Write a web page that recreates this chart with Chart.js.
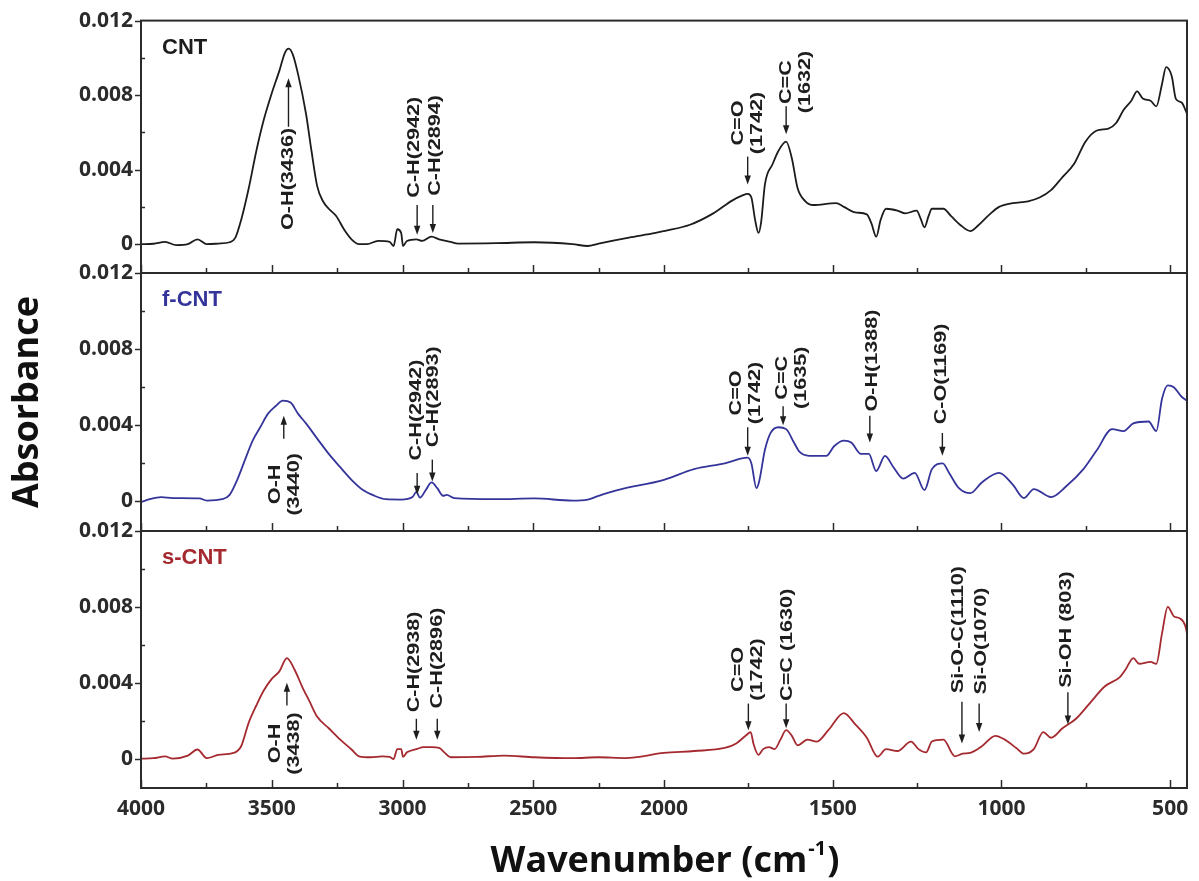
<!DOCTYPE html>
<html>
<head>
<meta charset="utf-8">
<title>FTIR spectra of CNT, f-CNT and s-CNT</title>
<script src="https://cdn.jsdelivr.net/npm/chart.js@4.4.1/dist/chart.umd.min.js"></script>
<style>
    html, body { margin: 0; padding: 0; background: #fff; }
    #wrap { position: relative; width: 1199px; height: 881px; }
    #wrap canvas { position: absolute; left: 0; top: 0; }
</style>
</head>
<body>
<div id="wrap">
    <canvas id="cntChart" width="1199" height="881"></canvas>
    <canvas id="fcntChart" width="1199" height="881"></canvas>
    <canvas id="scntChart" width="1199" height="881"></canvas>
</div>
<script>
'use strict';

// ============================================================================
// DATA  (wavenumber cm-1, absorbance)
// ============================================================================

var cntSpectrum = [
    [4000, 0.0000], [3952, 0.00002], [3908, 0.00012], [3865, -0.00005], [3821, 0.0000],
    [3784, 0.00026], [3748, 0.0000], [3704, 0.00003], [3661, 0.0001], [3639, 0.00035],
    [3617, 0.0013], [3588, 0.0030], [3559, 0.0050], [3530, 0.0067], [3500, 0.0081],
    [3471, 0.0093], [3449, 0.0103], [3435, 0.0105], [3420, 0.0102], [3399, 0.0091],
    [3369, 0.0070], [3348, 0.0050], [3326, 0.0031], [3304, 0.0023], [3282, 0.0019],
    [3253, 0.0015], [3224, 0.0008], [3195, 0.00026], [3166, 0.0000], [3136, 0.0000],
    [3093, 0.00017], [3049, 0.00012], [3034, -0.0001], [3020, 0.0008], [3005, 0.0006],
    [2998, -0.0001], [2983, 0.00017], [2947, 0.00026], [2925, 0.00017], [2889, 0.0004],
    [2860, 0.00026], [2816, 0.00012], [2787, 0.00003], [2642, 0.00005], [2496, 0.0001],
    [2350, 0.0000], [2292, -0.0001], [2250, 0.00003], [2134, 0.00035], [2032, 0.0006],
    [2000, 0.0007], [1923, 0.00104], [1854, 0.00165], [1797, 0.00235], [1769, 0.0026],
    [1752, 0.0027], [1741, 0.0025], [1730, 0.0013], [1720, 0.0006], [1712, 0.0012],
    [1701, 0.0032], [1678, 0.0043], [1661, 0.0050], [1638, 0.0055], [1621, 0.0046],
    [1604, 0.0030], [1581, 0.0023], [1558, 0.0021], [1490, 0.0022], [1467, 0.0020],
    [1433, 0.0017], [1399, 0.0016], [1385, 0.0011], [1371, 0.0004], [1358, 0.0013],
    [1342, 0.0019], [1308, 0.0018], [1285, 0.00165], [1251, 0.0018], [1240, 0.0014],
    [1228, 0.0009], [1216, 0.0015], [1206, 0.0019], [1172, 0.0019], [1149, 0.0015],
    [1120, 0.0010], [1092, 0.0007], [1069, 0.0010], [1035, 0.0016], [1007, 0.0020],
    [967, 0.0022], [921, 0.0023], [887, 0.0025], [853, 0.0029], [819, 0.0036],
    [785, 0.0043], [751, 0.0055], [717, 0.0061], [683, 0.0062], [660, 0.0065],
    [638, 0.0072], [615, 0.0077], [598, 0.0082], [580, 0.0078], [558, 0.0077],
    [541, 0.0074], [524, 0.0086], [512, 0.0095], [495, 0.0090], [483, 0.0078],
    [466, 0.0076], [450, 0.0070]
];

var fcntSpectrum = [
    [4000, -0.00003], [3967, 0.00012], [3923, 0.00023], [3879, 0.00018], [3777, 0.00016],
    [3748, 0.00005], [3690, 0.00012], [3661, 0.00035], [3632, 0.00114], [3602, 0.0022],
    [3573, 0.0032], [3544, 0.0039], [3515, 0.0046], [3486, 0.0050], [3457, 0.0053],
    [3428, 0.0052], [3399, 0.0046], [3369, 0.0041], [3326, 0.0033], [3282, 0.0025],
    [3238, 0.0018], [3195, 0.00114], [3151, 0.0006], [3107, 0.0003], [3064, 0.00012],
    [3005, 0.0001], [2962, 0.00023], [2947, 0.0005], [2933, 0.0002], [2911, 0.0006],
    [2889, 0.0010], [2867, 0.0007], [2845, 0.0003], [2831, 0.00035], [2802, 0.00018],
    [2642, 0.00012], [2496, 0.00016], [2350, 0.00005], [2292, 0.0001], [2250, 0.0003],
    [2178, 0.0006], [2000, 0.00114], [1911, 0.0017], [1820, 0.0020], [1752, 0.0023],
    [1741, 0.0020], [1726, 0.0007], [1718, 0.00105], [1701, 0.0027], [1684, 0.0036],
    [1661, 0.0039], [1638, 0.0038], [1615, 0.0031], [1598, 0.0026], [1570, 0.0024],
    [1519, 0.0024], [1496, 0.0029], [1467, 0.0032], [1445, 0.0031], [1416, 0.0025],
    [1393, 0.0025], [1371, 0.0016], [1345, 0.0024], [1320, 0.0018], [1291, 0.0012],
    [1257, 0.0015], [1228, 0.0006], [1206, 0.0017], [1174, 0.0020], [1155, 0.0015],
    [1126, 0.0007], [1092, 0.00044], [1058, 0.0010], [1007, 0.0015], [967, 0.0009],
    [933, 0.00018], [904, 0.00065], [853, 0.00023], [808, 0.0008], [757, 0.0017],
    [717, 0.0027], [672, 0.0038], [638, 0.0037], [609, 0.0041], [564, 0.0042],
    [541, 0.0037], [524, 0.0054], [507, 0.0061], [489, 0.0060], [466, 0.0055],
    [450, 0.0053]
];

var scntSpectrum = [
    [4000, 0.0000], [3952, 0.00002], [3908, 0.00012], [3879, 0.0000], [3821, 0.00016],
    [3784, 0.00048], [3748, 0.00002], [3704, 0.0002], [3646, 0.0003], [3617, 0.00065],
    [3588, 0.0019], [3559, 0.0028], [3530, 0.0036], [3500, 0.0042], [3471, 0.0046],
    [3442, 0.0053], [3413, 0.0047], [3384, 0.0038], [3355, 0.0030], [3326, 0.0022],
    [3282, 0.0016], [3238, 0.0010], [3195, 0.00048], [3166, 0.00012], [3122, 0.00007],
    [3078, 0.00012], [3049, 0.00009], [3034, -0.00002], [3020, 0.0005], [3005, 0.0005],
    [2998, 0.00009], [2983, 0.00033], [2947, 0.0005], [2918, 0.0006], [2889, 0.0006],
    [2860, 0.00056], [2838, 0.0003], [2816, 0.00007], [2714, 0.00009], [2612, 0.00016],
    [2496, 0.00007], [2350, 0.00002], [2251, 0.00007], [2148, 0.00003], [2000, 0.0003],
    [1911, 0.0004], [1820, 0.00056], [1786, 0.0008], [1752, 0.0013], [1743, 0.0014],
    [1735, 0.0008], [1720, 0.0002], [1706, 0.0005], [1689, 0.0006], [1672, 0.0005],
    [1655, 0.0010], [1638, 0.0015], [1621, 0.0012], [1604, 0.0007], [1575, 0.0010],
    [1547, 0.0009], [1513, 0.0015], [1467, 0.0024], [1433, 0.0018], [1399, 0.0011],
    [1367, 0.0001], [1342, 0.0005], [1308, 0.0004], [1268, 0.0009], [1246, 0.0005],
    [1223, 0.00033], [1206, 0.0009], [1172, 0.0010], [1138, 0.00012], [1115, 0.00026],
    [1092, 0.0003], [1058, 0.00065], [1018, 0.0012], [990, 0.0010], [956, 0.00056],
    [933, 0.00026], [904, 0.0005], [876, 0.0014], [853, 0.0011], [819, 0.0016],
    [779, 0.0021], [739, 0.0029], [694, 0.0038], [649, 0.0043], [632, 0.0047],
    [609, 0.0053], [592, 0.0050], [558, 0.0051], [541, 0.0050], [524, 0.0066],
    [507, 0.0080], [489, 0.0075], [472, 0.0074], [455, 0.0070], [450, 0.0066]
];

// tick values and labels
var xTickValues = [500, 750, 1000, 1250, 1500, 1750, 2000, 2250, 2500, 2750, 3000, 3250, 3500, 3750, 4000];
var xTickLabels = ['500', '', '1000', '', '1500', '', '2000', '', '2500', '', '3000', '', '3500', '', '4000'];
var yTickValues = [0, 0.002, 0.004, 0.006, 0.008, 0.010, 0.012];
var yTickLabels = ['0', '', '0.004', '', '0.008', '', '0.012'];

// peak assignments: text lines, text centre (x, y), arrow x and its tail/tip
var cntMarks = [
    { lines: ['O-H(3436)'], x: 3436, y: 0.0035, ax: 3436, from: 0.0063, to: 0.0089 },
    { lines: ['C-H(2942)'], x: 2954, y: 0.0052, ax: 2944, from: 0.0021, to: 0.0005 },
    { lines: ['C-H(2894)'], x: 2874, y: 0.0053, ax: 2884, from: 0.0021, to: 0.0006 },
    { lines: ['C=O', '(1742)'], x: 1780, y: 0.0065, ax: 1752, from: 0.0047, to: 0.0032 },
    { lines: ['C=C', '(1632)'], x: 1638, y: 0.0087, ax: 1638, from: 0.0074, to: 0.0059 }
];
var fcntMarks = [
    { lines: ['O-H', '(3440)'], x: 3486, y: 0.0009, ax: 3454, from: 0.0033, to: 0.0045 },
    { lines: ['C-H(2942)'], x: 2947, y: 0.0048, ax: 2944, from: 0.0015, to: 0.00035 },
    { lines: ['C-H(2893)'], x: 2882, y: 0.0055, ax: 2886, from: 0.0022, to: 0.00105 },
    { lines: ['C=O', '(1742)'], x: 1786, y: 0.0057, ax: 1752, from: 0.0039, to: 0.0024 },
    { lines: ['C=C', '(1635)'], x: 1650, y: 0.0065, ax: 1647, from: 0.0050, to: 0.0040 },
    { lines: ['O-H(1388)'], x: 1382, y: 0.0074, ax: 1390, from: 0.0045, to: 0.0031 },
    { lines: ['C-O(1169)'], x: 1177, y: 0.0067, ax: 1175, from: 0.0036, to: 0.0024 }
];
var scntMarks = [
    { lines: ['O-H', '(3438)'], x: 3486, y: 0.0008, ax: 3442, from: 0.0028, to: 0.0040 },
    { lines: ['C-H(2938)'], x: 2954, y: 0.0051, ax: 2947, from: 0.0021, to: 0.0010 },
    { lines: ['C-H(2896)'], x: 2867, y: 0.0053, ax: 2867, from: 0.0021, to: 0.0010 },
    { lines: ['C=O', '(1742)'], x: 1780, y: 0.0047, ax: 1750, from: 0.0029, to: 0.0015 },
    { lines: ['C=C (1630)'], x: 1635, y: 0.0060, ax: 1638, from: 0.0029, to: 0.0016 },
    { lines: ['Si-O-C(1110)'], x: 1126, y: 0.0068, ax: 1117, from: 0.0030, to: 0.0008 },
    { lines: ['Si-O(1070)'], x: 1058, y: 0.0062, ax: 1066, from: 0.0029, to: 0.0014 },
    { lines: ['Si-OH (803)'], x: 808, y: 0.0068, ax: 803, from: 0.0035, to: 0.0018 }
];

// ============================================================================
// LAYOUT / STYLE
// ============================================================================

var CANVAS_H = 881;
var PLOT_LEFT = 141;
var PLOT_RIGHT_PAD = 12;
var PANEL_EDGES = [16, 273, 531, 788];
var X_MIN = 450, X_MAX = 4000, X_BREAK = 2000;
var Y_MIN = -0.00155, Y_MAX = 0.012;
var AXIS_COLOR = '#2b2b2b';
var MARK_COLOR = '#1e1e1e';
var MARK_FONT = 'bold 16px "Liberation Sans", Arial, sans-serif';
var MARK_STRETCH = 1.35;
var MARK_LINE_GAP = 19;

Chart.defaults.font.family = '"Open Sans", "DejaVu Sans", sans-serif';
Chart.defaults.color = AXIS_COLOR;

// ============================================================================
// WAVENUMBER SCALE  (4000-2000 on the left half, 2000-450 on the right half)
// ============================================================================

function waveToDecimal(v) {
    if (v >= X_BREAK) return (X_MAX - v) / (X_MAX - X_BREAK) * 0.5;
    return 0.5 + (X_BREAK - v) / (X_BREAK - X_MIN) * 0.5;
}

function decimalToWave(d) {
    if (d <= 0.5) return X_MAX - d * 2 * (X_MAX - X_BREAK);
    return X_BREAK - (d - 0.5) * 2 * (X_BREAK - X_MIN);
}

class BrokenWavenumberScale extends Chart.LinearScale {
    getPixelForValue(value) {
        return this.getPixelForDecimal(waveToDecimal(value));
    }
    getValueForPixel(pixel) {
        return decimalToWave(this.getDecimalForPixel(pixel));
    }
}
BrokenWavenumberScale.id = 'brokenWavenumber';
BrokenWavenumberScale.defaults = {};
Chart.register(BrokenWavenumberScale);

// ============================================================================
// PLUGINS
// ============================================================================

function line(ctx, x1, y1, x2, y2) {
    ctx.beginPath();
    ctx.moveTo(x1, y1);
    ctx.lineTo(x2, y2);
    ctx.stroke();
}

// frame around each panel plus inward x ticks and y ticks
var frameTicks = {
    id: 'frameTicks',
    afterDraw: function(chart) {
        var ctx = chart.ctx, a = chart.chartArea;
        var xs = chart.scales.x, ys = chart.scales.y;
        ctx.save();
        ctx.strokeStyle = AXIS_COLOR;
        ctx.lineWidth = 2;
        ctx.strokeRect(a.left, a.top, a.right - a.left, a.bottom - a.top);
        ctx.lineWidth = 1.5;
        xTickValues.forEach(function(v, i) {
            var px = Math.round(xs.getPixelForValue(v)) + 0.5;
            var len = xTickLabels[i] ? 8 : 5;
            if (px < a.right - 2) line(ctx, px, a.bottom, px, a.bottom - len);
        });
        yTickValues.forEach(function(v, i) {
            var py = Math.round(ys.getPixelForValue(v)) + 0.5;
            if (yTickLabels[i]) line(ctx, a.left - 6, py, a.left, py);
            else line(ctx, a.left, py, a.left + 4, py);
        });
        ctx.restore();
    }
};

function drawMark(ctx, xs, ys, m) {
    ctx.save();
    ctx.fillStyle = MARK_COLOR;
    ctx.strokeStyle = MARK_COLOR;
    ctx.font = MARK_FONT;
    ctx.textAlign = 'center';
    ctx.textBaseline = 'middle';
    m.lines.forEach(function(text, i) {
        ctx.save();
        ctx.translate(xs.getPixelForValue(m.x) + i * MARK_LINE_GAP, ys.getPixelForValue(m.y));
        ctx.rotate(-Math.PI / 2);
        ctx.scale(MARK_STRETCH, 1);
        ctx.fillText(text, 0, 0);
        ctx.restore();
    });

    var ax = xs.getPixelForValue(m.ax);
    var y1 = ys.getPixelForValue(m.from);
    var y2 = ys.getPixelForValue(m.to);
    var dir = y2 > y1 ? 1 : -1;
    ctx.lineWidth = 1.4;
    line(ctx, ax, y1, ax, y2 - dir * 7);
    ctx.beginPath();
    ctx.moveTo(ax, y2);
    ctx.lineTo(ax - 3.2, y2 - dir * 9);
    ctx.lineTo(ax + 3.2, y2 - dir * 9);
    ctx.closePath();
    ctx.fill();
    ctx.restore();
}

// sample name and peak assignments of one panel
function makePanelLabels(name, color, marks) {
    return {
        id: 'panelLabels',
        afterDatasetsDraw: function(chart) {
            var ctx = chart.ctx, a = chart.chartArea;
            ctx.save();
            ctx.fillStyle = color;
            ctx.font = 'bold 22px "Liberation Sans", Arial, sans-serif';
            ctx.textAlign = 'left';
            ctx.textBaseline = 'middle';
            ctx.fillText(name, a.left + 21, a.top + 27);
            ctx.restore();
            marks.forEach(function(m) {
                drawMark(ctx, chart.scales.x, chart.scales.y, m);
            });
        }
    };
}

// x axis title with superscript
var xTitle = {
    id: 'xTitle',
    afterDraw: function(chart) {
        var ctx = chart.ctx, a = chart.chartArea;
        var main = 'Wavenumber (cm', sup = '-1', tail = ')';
        var bigFont = 'bold 36px "Open Sans", sans-serif';
        var supFont = 'bold 20px "Open Sans", sans-serif';
        ctx.save();
        ctx.fillStyle = '#111';
        ctx.textBaseline = 'alphabetic';
        ctx.textAlign = 'left';
        ctx.font = bigFont;
        var w1 = ctx.measureText(main).width, w3 = ctx.measureText(tail).width;
        ctx.font = supFont;
        var w2 = ctx.measureText(sup).width;
        var x0 = (a.left + a.right) / 2 - (w1 + w2 + w3) / 2;
        var base = 872;
        ctx.font = bigFont;
        ctx.fillText(main, x0, base);
        ctx.font = supFont;
        ctx.fillText(sup, x0 + w1 + 1, base - 17);
        ctx.font = bigFont;
        ctx.fillText(tail, x0 + w1 + w2 + 2, base);
        ctx.restore();
    }
};

// ============================================================================
// CHART CREATION
// ============================================================================

function toPoints(spectrum) {
    return spectrum.map(function(p) { return { x: p[0], y: p[1] }; });
}

function initPanel(canvasId, index, name, color, spectrum, marks) {
    var isBottom = index === 2;
    var isMiddle = index === 1;
    var top = PANEL_EDGES[index];
    var bottom = PANEL_EDGES[index + 1];
    var xHeight = isBottom ? CANVAS_H - bottom : 0;

    var plugins = [frameTicks, makePanelLabels(name, color, marks)];
    if (isBottom) plugins.push(xTitle);

    return new Chart(document.getElementById(canvasId), {
        type: 'line',
        data: {
            datasets: [{
                label: name,
                data: toPoints(spectrum),
                borderColor: color,
                borderWidth: 1.8,
                pointRadius: 0,
                fill: false,
                cubicInterpolationMode: 'monotone'
            }]
        },
        options: {
            responsive: false,
            animation: false,
            events: [],
            layout: {
                padding: { top: top, bottom: CANVAS_H - bottom - xHeight, left: 0, right: PLOT_RIGHT_PAD }
            },
            plugins: {
                legend: { display: false },
                tooltip: { enabled: false }
            },
            scales: {
                x: {
                    type: 'brokenWavenumber',
                    min: X_MIN,
                    max: X_MAX,
                    grid: { display: false, drawTicks: false },
                    border: { display: false },
                    afterBuildTicks: function(scale) {
                        scale.ticks = xTickValues.map(function(v) { return { value: v }; });
                    },
                    afterFit: function(scale) { scale.height = xHeight; },
                    ticks: {
                        display: isBottom,
                        autoSkip: false,
                        maxRotation: 0,
                        padding: 8,
                        color: AXIS_COLOR,
                        font: { size: 21, weight: 'bold' },
                        callback: function(value, i) { return xTickLabels[i]; }
                    }
                },
                y: {
                    type: 'linear',
                    min: Y_MIN,
                    max: Y_MAX,
                    grid: { display: false, drawTicks: false },
                    border: { display: false },
                    afterBuildTicks: function(scale) {
                        scale.ticks = yTickValues.map(function(v) { return { value: v }; });
                    },
                    afterFit: function(scale) { scale.width = PLOT_LEFT; },
                    title: {
                        display: isMiddle,
                        text: 'Absorbance',
                        color: '#111',
                        font: { size: 36, weight: 'bold' },
                        padding: { top: 6, bottom: 0 }
                    },
                    ticks: {
                        autoSkip: false,
                        padding: 8,
                        color: AXIS_COLOR,
                        font: { size: 21, weight: 'bold' },
                        callback: function(value, i) { return yTickLabels[i]; }
                    }
                }
            }
        },
        plugins: plugins
    });
}

initPanel('cntChart', 0, 'CNT', '#1c1c1c', cntSpectrum, cntMarks);
initPanel('fcntChart', 1, 'f-CNT', '#34349a', fcntSpectrum, fcntMarks);
initPanel('scntChart', 2, 's-CNT', '#a52a30', scntSpectrum, scntMarks);
</script>
</body>
</html>
